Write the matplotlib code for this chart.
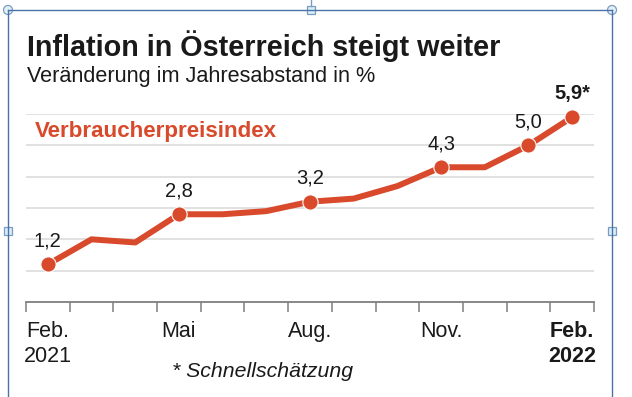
import numpy as np
import matplotlib.pyplot as plt
from matplotlib.patches import Rectangle, Circle

plt.rcParams['font.family'] = ['Liberation Sans', 'DejaVu Sans']

# monthly CPI change vs. previous year, Feb 2021 .. Feb 2022
MONTHS = ['Feb. 2021', 'Mär.', 'Apr.', 'Mai', 'Jun.', 'Jul.', 'Aug.', 'Sep.',
          'Okt.', 'Nov.', 'Dez.', 'Jän.', 'Feb. 2022']
VALUES = [1.2, 2.0, 1.9, 2.8, 2.8, 2.9, 3.2, 3.3, 3.7, 4.3, 4.3, 5.0, 5.9]
LABELLED = [0, 3, 6, 9, 11, 12]
VALUE_TEXT = ['1,2', '2,8', '3,2', '4,3', '5,0', '5,9*']
TICK_POS = [0, 3, 6, 9, 12]
TICK_TEXT = ['Feb.\n2021', 'Mai', 'Aug.', 'Nov.', 'Feb.\n2022']

RED = '#d84a2b'
W, H = 632, 397


def fx(px):
    return px / W


def fy(py):
    # pixel measured from the top of the image
    return 1 - py / H


fig = plt.figure(figsize=(W / 100, H / 100), dpi=100)
fig.patch.set_facecolor('white')

ax = fig.add_axes([fx(26), fy(302), fx(594 - 26), (302 - 114) / H])
x = np.arange(len(VALUES))
ax.plot(x, VALUES, color=RED, lw=4.3, solid_capstyle='round',
        solid_joinstyle='round', clip_on=False, zorder=3)
ax.plot(x[LABELLED], np.array(VALUES)[LABELLED], 'o', color=RED, ms=11,
        mec='white', mew=0.8, clip_on=False, zorder=4)

for i, txt in zip(LABELLED, VALUE_TEXT):
    weight = 'bold' if txt.endswith('*') else 'normal'
    ax.annotate(txt, (x[i], VALUES[i]), xytext=(0, 13), textcoords='offset points',
                ha='center', va='baseline', fontsize=14.5, fontweight=weight,
                color='#1a1a1a', zorder=5)

ax.set_xlim(-0.5, 12.5)
ax.set_ylim(0, 6)
ax.set_yticks(np.arange(1, 7))
ax.yaxis.grid(True, color='#dcdcdc', lw=1.2)
ax.tick_params(axis='y', length=0, labelleft=False)
ax.set_axisbelow(True)

ax.set_xticks(TICK_POS)
ax.set_xticklabels(TICK_TEXT, fontsize=15.5, color='#1a1a1a')
ax.set_xticks(np.arange(-0.5, 13, 1), minor=True)
ax.tick_params(axis='x', which='major', length=0, pad=14)
ax.tick_params(axis='x', which='minor', length=7, width=1.1, color='#7f7f7f', direction='out')
ax.get_xticklabels()[-1].set_fontweight('bold')

for side in ['top', 'right', 'left']:
    ax.spines[side].set_visible(False)
ax.spines['bottom'].set_color('#7f7f7f')
ax.spines['bottom'].set_linewidth(1.3)

fig.text(fx(27), fy(56), 'Inflation in Österreich steigt weiter', fontsize=20.7,
         fontweight='bold', color='#1a1a1a', va='baseline')
fig.text(fx(27), fy(82), 'Veränderung im Jahresabstand in %', fontsize=15.6,
         color='#1a1a1a', va='baseline')
fig.text(fx(35), fy(137), 'Verbraucherpreisindex', fontsize=16.1,
         fontweight='bold', color=RED, va='baseline')
fig.text(fx(172), fy(377), '* Schnellschätzung', fontsize=15.3, style='italic',
         color='#1a1a1a', va='baseline')

# selection frame drawn around the pasted picture
BLUE = '#4a72a8'
fig.add_artist(plt.Line2D([fx(8), fx(612)], [fy(10), fy(10)], color=BLUE, lw=1))
fig.add_artist(plt.Line2D([fx(8), fx(8)], [fy(10), 0], color=BLUE, lw=1))
fig.add_artist(plt.Line2D([fx(612), fx(612)], [fy(10), 0], color=BLUE, lw=1))
fig.add_artist(plt.Line2D([fx(311), fx(311)], [1, fy(6)], color='#7a9cc0', lw=1))
for cx in [8, 612]:
    fig.add_artist(Circle((cx, H - 10), 4.5, transform=None, fc='#e4f2f8',
                          ec='#7a9cc0', lw=0.9))
for cx, cy in [(311, 10), (8, 231), (612, 231)]:
    fig.add_artist(Rectangle((cx - 4, H - cy - 4), 8, 8, transform=None,
                             fc='#d8eef8', ec='#7a9cc0', lw=0.9))

fig.savefig('out.png', dpi=100)
